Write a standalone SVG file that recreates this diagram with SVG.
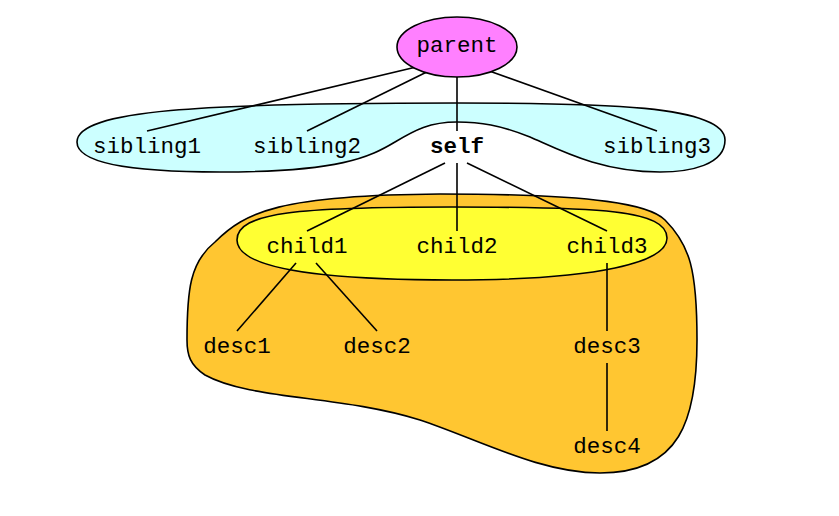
<svg xmlns="http://www.w3.org/2000/svg" width="839" height="516" viewBox="0 0 839 516">
<style>
text{font-family:"Liberation Mono","Courier New",monospace;font-size:22.5px;text-anchor:middle;fill:#000}
.b{font-weight:bold}
.c{fill:none;stroke:#000;stroke-width:1.6}
.cl{stroke:#000;stroke-width:1.6}
</style>
<rect width="839" height="516" fill="#fff"/>
<g id="cluster-desc">
<path class="cl" fill="#ffc631" d="M187,340 C187,290 190,262 215,242 C245,212 280,195 440,194 C600,194 650,205 665,220 C690,245 697,270 697,340 C697,420 680,473 600,473 C540,473 480,440 420,420 C340,395 250,400 205,375 C190,365 187,355 187,340 Z"/>
</g>
<g id="cluster-children">
<path class="cl" fill="#ffff33" d="M237,240 C237,212 300,207 452,207 C600,207 667,210 667,238 C667,262 600,280 452,280 C300,280 237,265 237,240 Z"/>
</g>
<g id="cluster-siblings">
<path class="cl" fill="#ccffff" d="M77,142 C77,110 200,103 457,103 C600,103 725,105 725,140 C725,165 690,172 660,172 C600,172 560,150 530,137 C500,125 480,122 457,122 C430,122 415,130 395,142 C370,157 340,172 220,172 C140,172 77,165 77,142 Z"/>
</g>
<g id="connectors">
<line class="c" x1="433" y1="63" x2="147" y2="131"/>
<line class="c" x1="445" y1="63" x2="307" y2="131"/>
<line class="c" x1="457" y1="63" x2="457" y2="131"/>
<line class="c" x1="467" y1="63" x2="657" y2="131"/>
<line class="c" x1="445" y1="163" x2="307" y2="231"/>
<line class="c" x1="457" y1="163" x2="457" y2="231"/>
<line class="c" x1="467" y1="163" x2="607" y2="231"/>
<line class="c" x1="296" y1="263" x2="237" y2="331"/>
<line class="c" x1="316" y1="263" x2="377" y2="331"/>
<line class="c" x1="607" y1="263" x2="607" y2="331"/>
<line class="c" x1="607" y1="363" x2="607" y2="431"/>
</g>
<g id="parent">
<ellipse cx="457" cy="47" rx="60" ry="30" fill="#ff80ff" stroke="#000" stroke-width="1.6"/>
<text x="457" y="52">parent</text>
</g>
<g id="sibling1"><text x="147" y="153">sibling1</text></g>
<g id="sibling2"><text x="307" y="153">sibling2</text></g>
<g id="self"><text class="b" x="457" y="153">self</text></g>
<g id="sibling3"><text x="657" y="153">sibling3</text></g>
<g id="child1"><text x="307" y="253">child1</text></g>
<g id="child2"><text x="457" y="253">child2</text></g>
<g id="child3"><text x="607" y="253">child3</text></g>
<g id="desc1"><text x="237" y="353">desc1</text></g>
<g id="desc2"><text x="377" y="353">desc2</text></g>
<g id="desc3"><text x="607" y="353">desc3</text></g>
<g id="desc4"><text x="607" y="453">desc4</text></g>
</svg>
